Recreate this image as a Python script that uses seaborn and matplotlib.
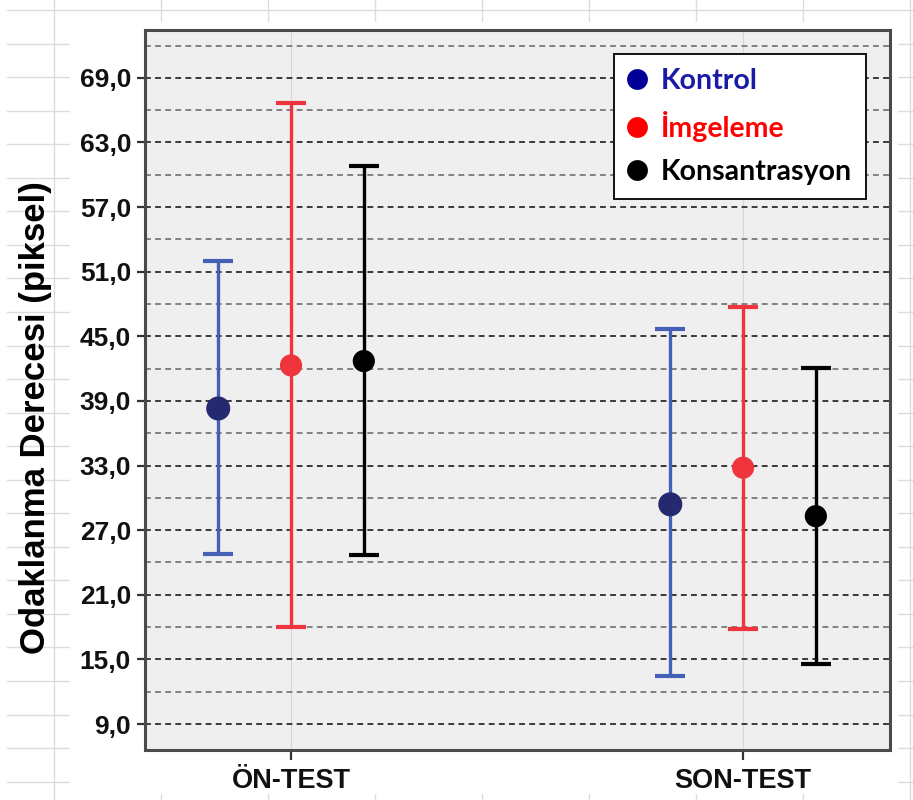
import matplotlib
matplotlib.use("Agg")
import matplotlib.pyplot as plt
import numpy as np
import pandas as pd
import seaborn as sns
from matplotlib.lines import Line2D
from matplotlib.patches import Rectangle
from matplotlib.ticker import FixedLocator, FuncFormatter

# ---- data -------------------------------------------------------------
phases = ["ÖN-TEST", "SON-TEST"]
groups = ["Kontrol", "İmgeleme", "Konsantrasyon"]

kontrol_mean = [38.3, 29.4]
kontrol_low = [24.8, 13.5]
kontrol_high = [52.0, 45.7]

imgeleme_mean = [42.3, 32.8]
imgeleme_low = [18.0, 17.8]
imgeleme_high = [66.7, 47.7]

konsantrasyon_mean = [42.7, 28.3]
konsantrasyon_low = [24.7, 14.6]
konsantrasyon_high = [60.8, 42.1]

y_ticks = [9, 15, 21, 27, 33, 39, 45, 51, 57, 63, 69]
y_minor = [12, 18, 24, 30, 36, 42, 48, 54, 60, 66, 72]

# ---- styling ------------------------------------------------------------
bar_colors = {"Kontrol": "#4360b6", "İmgeleme": "#f0343e", "Konsantrasyon": "#000000"}
dot_colors = {"Kontrol": "#25296f", "İmgeleme": "#f0343e", "Konsantrasyon": "#000000"}
dot_sizes = {"Kontrol": 300, "İmgeleme": 255, "Konsantrasyon": 255}
legend_dot = {"Kontrol": "#000099", "İmgeleme": "#ff0000", "Konsantrasyon": "#000000"}
legend_txt = {"Kontrol": "#1a1aa6", "İmgeleme": "#ff0000", "Konsantrasyon": "#000000"}
offsets = {"Kontrol": -0.161, "İmgeleme": 0.0, "Konsantrasyon": 0.161}

rows = []
for g, m, lo, hi in [
    ("Kontrol", kontrol_mean, kontrol_low, kontrol_high),
    ("İmgeleme", imgeleme_mean, imgeleme_low, imgeleme_high),
    ("Konsantrasyon", konsantrasyon_mean, konsantrasyon_low, konsantrasyon_high),
]:
    for i, p in enumerate(phases):
        rows.append({"phase": p, "group": g, "x": i + offsets[g],
                     "mean": m[i], "low": lo[i], "high": hi[i]})
df = pd.DataFrame(rows)

sns.set_theme(style="white")
plt.rcParams["font.family"] = ["Liberation Sans", "DejaVu Sans"]

W, H = 913, 800
fig = plt.figure(figsize=(W / 100, H / 100), dpi=100)
fig.patch.set_facecolor("white")

# spreadsheet cells behind the chart
grid_c = "#dcdcdc"
def px_line(x0, y0, x1, y1):
    fig.add_artist(Line2D([x0 / W, x1 / W], [1 - y0 / H, 1 - y1 / H],
                          color=grid_c, lw=1.0, zorder=-3, transform=fig.transFigure))

row_y = np.arange(10, 800, 33.55)
for y in row_y:
    px_line(7, y, W, y)
for x in [54, 161, 268, 375, 482, 589, 696, 803, 910]:
    px_line(x, 0, x, H)
fig.add_artist(Rectangle((70 / W, 1 - 794 / H), (898 - 70) / W, (794 - 22) / H,
                         transform=fig.transFigure, facecolor="white",
                         edgecolor="none", zorder=-2))

ax = fig.add_axes([145 / W, 50 / H, 745 / W, 720 / H])
ax.set_facecolor("#efefef")

# dashed reference lines
for v in y_ticks:
    ax.axhline(v, color="#3a3a3a", lw=1.4, ls=(0, (3, 2.2)), zorder=1)
for v in y_minor:
    ax.axhline(v, color="#808080", lw=1.4, ls=(0, (3, 2.2)), zorder=1)
for i in range(len(phases)):
    ax.axvline(i, color="#d6d6d6", lw=0.8, zorder=0.5)

# interval bars
for g in groups:
    d = df[df["group"] == g]
    ax.errorbar(d["x"], d["mean"],
                yerr=[d["mean"] - d["low"], d["high"] - d["mean"]],
                fmt="none", ecolor=bar_colors[g], elinewidth=2.4,
                capsize=10.5, capthick=3.0, zorder=3)

# group means
sns.scatterplot(data=df, x="x", y="mean", hue="group", palette=dot_colors,
                hue_order=groups, size="group", sizes=dot_sizes,
                edgecolor="none", legend=False, ax=ax, zorder=4)

ax.set_xlim(-0.323, 1.325)
ax.set_ylim(6.59, 73.44)
ax.yaxis.set_major_locator(FixedLocator(y_ticks))
ax.yaxis.set_major_formatter(FuncFormatter(lambda v, _: f"{v:.1f}".replace(".", ",")))
ax.set_xticks(range(len(phases)))
ax.set_xticklabels(phases)
ax.tick_params(axis="y", left=True, length=6, width=1.6, color="#333333",
               labelsize=19, pad=4, labelcolor="#111111")
ax.tick_params(axis="x", bottom=True, length=7, width=1.6, color="#333333",
               labelsize=19.5, pad=6, labelcolor="#111111")
for t in ax.get_yticklabels() + ax.get_xticklabels():
    t.set_fontweight("bold")
ax.set_xlabel("")
ax.set_ylabel("Odaklanma Derecesi (piksel)", fontsize=25, fontweight="bold",
              color="#000000")
ax.yaxis.set_label_coords(-0.125, 0.462)

for s in ax.spines.values():
    s.set_visible(True)
    s.set_color("#4a4a4a")
    s.set_linewidth(2.2)

handles = [Line2D([], [], ls="none", marker="o", markersize=15,
                  markerfacecolor=legend_dot[g], markeredgecolor="none")
           for g in groups]
leg = ax.legend(handles, groups, loc="upper right", bbox_to_anchor=(0.968, 0.967),
                borderaxespad=0, frameon=True, fancybox=False, handlelength=0.6,
                handletextpad=0.55, labelspacing=0.6, borderpad=0.5,
                prop={"family": "Lato", "weight": "bold", "size": 20.5})
leg.get_frame().set_edgecolor("#111111")
leg.get_frame().set_linewidth(1.4)
leg.get_frame().set_facecolor("white")
leg.get_frame().set_alpha(1)
for t, g in zip(leg.get_texts(), groups):
    t.set_color(legend_txt[g])
leg.set_zorder(6)

fig.savefig("out.png", dpi=100, facecolor="white")
